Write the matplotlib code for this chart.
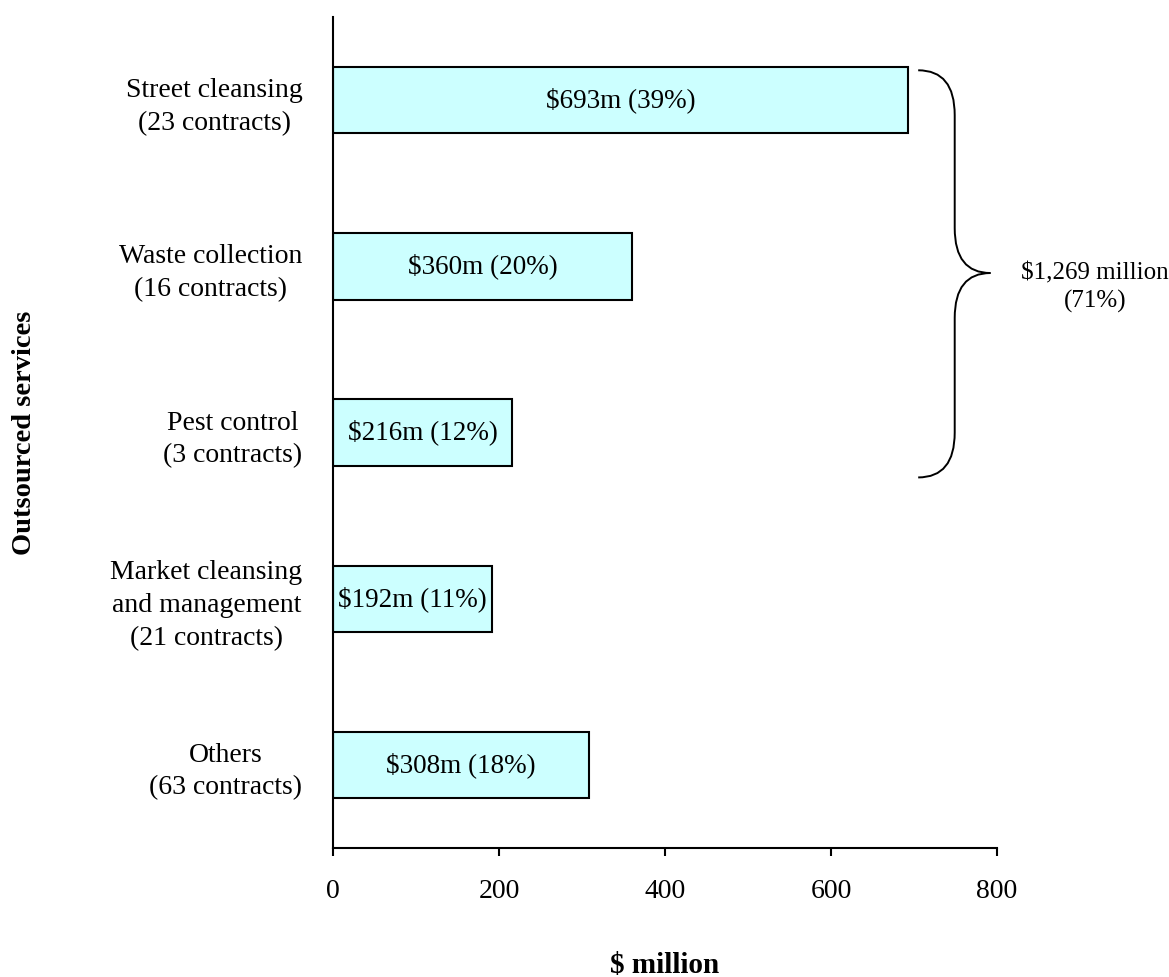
import matplotlib.pyplot as plt
from matplotlib.path import Path
from matplotlib.patches import PathPatch

# Ausgelagerte Dienste und Vertragswerte in Mio. $
services = ['Street cleansing\n(23 contracts)',
            'Waste collection\n(16 contracts)',
            'Pest control\n(3 contracts)',
            'Market cleansing\nand management\n(21 contracts)',
            'Others\n(63 contracts)']
values = [693, 360, 216, 192, 308]
shares = [39, 20, 12, 11, 18]
group_total = 1269
group_share = 71

plt.rcParams['font.family'] = ['Liberation Serif', 'DejaVu Serif']

fig = plt.figure(figsize=(11.69, 9.77), dpi=100)
ax = fig.add_axes([0.2849, 0.132, 0.568, 0.8505])

pos = list(range(len(services)))
ax.barh(pos, values, height=0.4, color='#CCFFFF', edgecolor='black', linewidth=1.5)

for p, v, s in zip(pos, values, shares):
    ax.text(v / 2, p, '\\$%dm (%d%%)' % (v, s), ha='center', va='center', fontsize=19.5)

ax.set_xlim(0, 800)
ax.set_ylim(4.5, -0.5)
ax.set_xticks([0, 200, 400, 600, 800])
ax.set_yticks(pos)
ax.set_yticklabels(services, fontsize=20, multialignment='center', linespacing=1.4)
ax.tick_params(axis='y', length=0, pad=22)
ax.tick_params(axis='x', direction='out', length=6, width=1.5, labelsize=20, pad=16)

for side in ['top', 'right']:
    ax.spines[side].set_visible(False)
for side in ['left', 'bottom']:
    ax.spines[side].set_linewidth(1.5)

ax.set_xlabel('\\$ million', fontsize=21, fontweight='bold')
ax.set_ylabel('Outsourced services', fontsize=20.5, fontweight='bold')
ax.xaxis.set_label_coords(0.5, -0.125)
ax.yaxis.set_label_coords(-0.446, 0.5)

# geschweifte Klammer fuer die drei groessten Posten
x0, x1, x2 = 705, 749, 792
y0, ym, y1 = -0.18, 1.04, 2.27
c = 0.27
verts = [(x0, y0), (x1, y0), (x1, y0 + c),
         (x1, ym - c),
         (x1, ym), (x2, ym),
         (x1, ym), (x1, ym + c),
         (x1, y1 - c),
         (x1, y1), (x0, y1)]
codes = [Path.MOVETO, Path.CURVE3, Path.CURVE3,
         Path.LINETO,
         Path.CURVE3, Path.CURVE3,
         Path.CURVE3, Path.CURVE3,
         Path.LINETO,
         Path.CURVE3, Path.CURVE3]
ax.add_patch(PathPatch(Path(verts, codes), facecolor='none', edgecolor='black',
                       linewidth=1.4, clip_on=False))

ax.text(918, ym + 0.09, '\\$%s million\n(%d%%)' % (format(group_total, ','), group_share),
        ha='center', va='center', fontsize=18, multialignment='center',
        linespacing=1.3, clip_on=False)

fig.savefig('out.png', dpi=100)
